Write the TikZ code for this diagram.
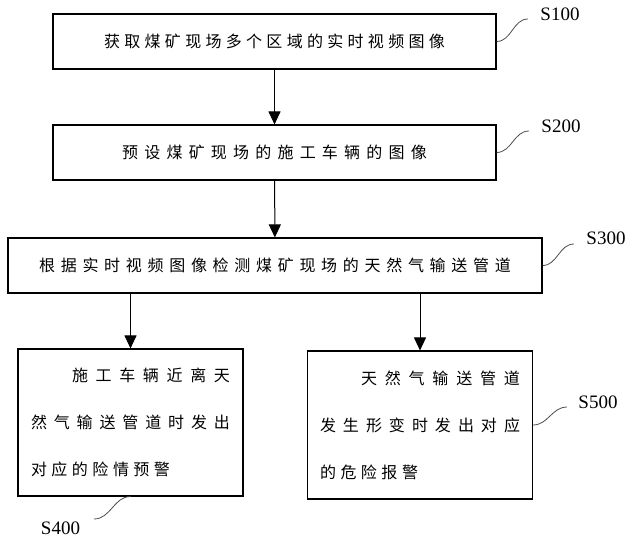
\documentclass[tikz,border=0pt]{standalone}
\usepackage{fontspec}
\setmainfont{Liberation Serif}
\newfontfamily\cjk{Noto Sans CJK SC}
\XeTeXlinebreaklocale "zh"
\newcommand\cjkgap[1]{\XeTeXlinebreakskip=#1\relax}
\usetikzlibrary{arrows.meta,positioning}

\begin{document}
\begin{tikzpicture}[x=1pt, y=-1pt,
    stepbox/.style={rectangle, draw, line width=1.1pt, minimum height=55pt, align=center, font=\cjk\fontsize{16}{20}\selectfont\cjkgap{#1}},
    tallbox/.style={rectangle, draw, line width=1.1pt, minimum width=225pt, minimum height=147pt, text width=199pt, align=justify, font=\cjk\fontsize{16}{47}\selectfont\cjkgap{4.5pt plus 4pt}},
    steplabel/.style={font=\fontsize{19}{19}\selectfont, inner sep=0pt},
    lead/.style={gray!60!black, line width=0.8pt},
    arrow/.style={-{Triangle[width=12pt,length=13pt]}, line width=1pt}
]
\useasboundingbox (0,0) rectangle (637,546);

% Steps
\node at (274.5,41.5) [stepbox=4.3pt, minimum width=443pt, text width=430pt] (s100) {获取煤矿现场多个区域的实时视频图像};
\node at (274.5,152.5) [stepbox=6.2pt, minimum width=443pt, text width=430pt] (s200) {预设煤矿现场的施工车辆的图像};
\node at (275,265.5) [stepbox=5.7pt, minimum width=534pt, text width=520pt] (s300) {根据实时视频图像检测煤矿现场的天然气输送管道};

% Two branches
\node at (130.5,422.5) [tallbox] (s400) {\hspace*{41pt}施工车辆近离天\linebreak 然气输送管道时发出\linebreak 对应的险情预警};
\node at (420,425) [tallbox, minimum height=148pt, text width=200pt] (s500) {\hspace*{41pt}天然气输送管道\linebreak 发生形变时发出对应\linebreak 的危险报警};

% Arrows
\draw [arrow] (s100) -- (s200);
\draw [arrow] (s200) -- (s300);
\draw [arrow] (s300.south -| s400.north) -- (s400.north);
\draw [arrow] (s300.south -| s500.north) -- (s500.north);

% Step numbers
\coordinate (c100) at (528,19);
\coordinate (c200) at (529,131);
\coordinate (c300) at (574,244);
\coordinate (c400) at (94,519);
\coordinate (c500) at (567,407);
\draw [lead] (s100.east) to[out=0,in=180] (c100);
\draw [lead] (s200.east) to[out=0,in=180] (c200);
\draw [lead] (s300.east) to[out=0,in=180] (c300);
\draw [lead] (s400.south) to[out=180,in=0] (c400);
\draw [lead] (s500.east) to[out=0,in=180] (c500);
\node at (560,14) [steplabel] (t100) {S100};
\node at (561,126) [steplabel] (t200) {S200};
\node at (606,238) [steplabel] (t300) {S300};
\node at (60.5,528) [steplabel] (t400) {S400};
\node at (598,402) [steplabel] (t500) {S500};

\end{tikzpicture}
\end{document}
